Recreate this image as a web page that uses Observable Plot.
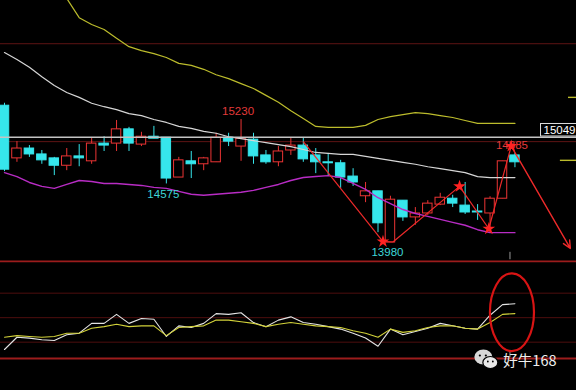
<!DOCTYPE html>
<html>
<head>
<meta charset="utf-8">
<script src="https://cdn.jsdelivr.net/npm/d3@7"></script>
<script src="https://cdn.jsdelivr.net/npm/@observablehq/plot@0.6"></script>
<style>
html, body { margin: 0; padding: 0; background: #000; }
#chart { width: 576px; height: 390px; overflow: hidden; background: #000; }
#chart svg { display: block; }
</style>
</head>
<body>
<div id="chart"></div>
<script>
// ---- Candles (index 0..41), prices ----
const opens  = [15370,14835,14935,14875,14835,14760,14855,14805,14985,14985,15130,14975,15055,15045,14640,14805,14775,14795,15045,14955,15025,14865,14795,14915,14965,14865,14795,14785,14650,14450,14500,13980,14405,14235,14275,14365,14425,14355,14295,14275,14425,14865];
const highs  = [15395,15005,14965,14915,14845,14935,14975,15045,15055,15220,15150,15100,15160,15045,14845,14905,14845,15090,15090,15230,15090,14915,14955,15045,15045,14935,14885,14815,14730,14590,14500,14450,14405,14335,14405,14480,14460,14590,14365,14445,14805,14885];
const lows   = [14700,14795,14845,14775,14660,14710,14750,14775,14905,14905,14905,14955,15035,14575,14640,14630,14710,14795,14955,14805,14775,14775,14750,14865,14795,14680,14660,14530,14550,14385,14080,13980,14195,14155,14255,14355,14335,14265,14205,14120,14425,14740];
const closes = [14720,14935,14875,14815,14760,14855,14835,14985,14965,15130,14985,15055,15035,14630,14815,14775,14835,15045,15005,15035,14855,14795,14905,14965,14825,14795,14785,14640,14590,14500,14175,14415,14235,14275,14375,14435,14375,14285,14285,14425,14805,14795];

// ---- Moving-average / band lines (one value per candle) ----
const maYellow  = [17560,17300,17050,16845,16645,16460,16265,16195,16145,16055,15970,15930,15900,15860,15800,15780,15740,15685,15645,15595,15545,15475,15405,15320,15240,15160,15150,15150,15150,15170,15230,15260,15280,15300,15290,15270,15250,15220,15190,15190,15190,15190];
const maWhite   = [15910,15840,15760,15665,15575,15505,15455,15395,15360,15330,15290,15270,15230,15200,15160,15140,15110,15090,15055,15035,15015,14995,14975,14955,14925,14895,14885,14875,14875,14855,14835,14815,14795,14775,14750,14730,14710,14690,14650,14640,14640,14640];
const maMagenta = [14690,14650,14590,14550,14530,14570,14610,14600,14580,14580,14570,14560,14540,14530,14500,14470,14460,14470,14480,14490,14510,14540,14570,14610,14640,14650,14660,14640,14580,14520,14435,14375,14315,14275,14245,14215,14185,14155,14110,14080,14080,14080];

// ---- Lower indicator pane ----
const indWhite  = [11,26,25,23,22,29,31,43,43,54,43,49,48,27,40,38,43,55,54,56,44,39,47,51,44,42,39,36,31,25,15,36,29,33,37,43,40,37,36,53,66,67];
const indYellow = [26,28,27,26,27,31,31,37,39,42,39,40,40,28,38,39,40,47,47,45,43,39,42,44,42,40,39,38,34,31,26,36,32,34,38,40,40,37,36,44,54,55];
const indLevels = [20, 50, 80];
const indFrame  = [0, 119];

// ---- Annotations ----
const lastPrice = 15049;
const gridPrices = [16000, 15005];
const rightMarks = [{p: 15455, from: 45.3}, {p: 14815, from: 44.65}];
const extremes = [
  {i: 19, p: 15230, text: "15230", kind: "high"},
  {i: 13, p: 14575, text: "14575", kind: "low"},
  {i: 31, p: 13980, text: "13980", kind: "low"},
  {i: 41, p: 14885, text: "14885", kind: "high"}
];
const zigzag = [
  {i: 24,    p: 15005},
  {i: 30.4,  p: 13990},
  {i: 31.2,  p: 13985},
  {i: 36.55, p: 14550},
  {i: 38.9,  p: 14120},
  {i: 40.7,  p: 14960},
  {i: 45.45, p: 13920}
];
const starIdx = [1, 3, 4, 5];
const cursorI = 40.6;
const highlight = {i: 40.8, v: 56, ri: 1.77, rv: 47.7};
const watermark = "好牛168";

// ---- Build ----
const RED = "#ec3434", CYAN = "#36e6ec", ZIG = "#ee2a2a";
const FONT = "'Liberation Sans', Arial, sans-serif";
const candles = opens.map((o, i) => ({i, o, h: highs[i], l: lows[i], c: closes[i]}));
const ups = candles.filter(d => d.c >= d.o);
const downs = candles.filter(d => d.c < d.o);
const series = arr => arr.map((v, i) => ({i, v}));
const legs = zigzag.slice(0, -2).map((d, k) => ({a: d, b: zigzag[k + 1]}));
const lastLeg = [{a: zigzag[zigzag.length - 2], b: zigzag[zigzag.length - 1]}];
const stars = starIdx.map(k => zigzag[k]);

const xScale = {type: "linear", domain: [0, 41], range: [4, 514.45], axis: null};

const main = Plot.plot({
  width: 576, height: 260, margin: 0,
  style: {background: "#000", overflow: "hidden"},
  x: xScale,
  y: {type: "linear", domain: [15230, 13980], range: [119, 242], axis: null},
  marks: [
    Plot.ruleY(gridPrices, {stroke: "#5e1414", strokeWidth: 1}),
    Plot.ruleX(ups, {x: "i", y1: "l", y2: "h", stroke: RED, strokeWidth: 1}),
    Plot.ruleX(downs, {x: "i", y1: "l", y2: "h", stroke: CYAN, strokeWidth: 1}),
    Plot.rect(ups, {x1: d => d.i - 0.38, x2: d => d.i + 0.38, y1: "o", y2: "c", fill: "#000", stroke: RED, strokeWidth: 1}),
    Plot.rect(downs, {x1: d => d.i - 0.38, x2: d => d.i + 0.38, y1: "o", y2: "c", fill: CYAN, stroke: CYAN, strokeWidth: 1}),
    Plot.line(series(maYellow), {x: "i", y: "v", stroke: "#bcbc2c", strokeWidth: 1.2, clip: true}),
    Plot.line(series(maWhite), {x: "i", y: "v", stroke: "#d6d6d6", strokeWidth: 1.2, clip: true}),
    Plot.line(series(maMagenta), {x: "i", y: "v", stroke: "#b82cc4", strokeWidth: 1.4, clip: true}),
    Plot.ruleY([lastPrice], {stroke: "#c4c4c4", strokeWidth: 1.6}),
    Plot.ruleY(rightMarks, {y: "p", x1: "from", x2: d => 46, stroke: "#bcbc2c", strokeWidth: 1.4}),
    Plot.ruleX([cursorI], {y1: 13880, y2: 13805, stroke: "#9a9a9a", strokeWidth: 1}),
    Plot.link(legs, {x1: d => d.a.i, y1: d => d.a.p, x2: d => d.b.i, y2: d => d.b.p, stroke: ZIG, strokeWidth: 1.2}),
    Plot.arrow(lastLeg, {x1: d => d.a.i, y1: d => d.a.p, x2: d => d.b.i, y2: d => d.b.p, stroke: ZIG, strokeWidth: 1.4, headLength: 9, headAngle: 50}),
    Plot.text(extremes.filter(d => d.kind === "high"), {x: "i", y: "p", text: "text", fill: "#e23a3a", dx: -3, dy: -8, fontSize: 11.5, fontFamily: FONT}),
    Plot.text(extremes.filter(d => d.kind === "low"), {x: "i", y: "p", text: "text", fill: "#3ed6d8", dx: -3, dy: 10, fontSize: 11.5, fontFamily: FONT}),
    Plot.dot(stars, {x: "i", y: "p", symbol: "star", r: 4, fill: "#ff2222"}),
    Plot.text([lastPrice], {y: d => d, text: d => String(d), frameAnchor: "right", textAnchor: "end", dx: -1, dy: -7, fill: "#fff", fontSize: 11.5, fontFamily: FONT})
  ]
});

const lower = Plot.plot({
  width: 576, height: 130, margin: 0,
  style: {background: "#000", overflow: "hidden"},
  x: xScale,
  y: {type: "linear", domain: [0, 120], range: [98, 0], axis: null},
  marks: [
    Plot.ruleY(indLevels, {stroke: "#4e0e0e", strokeWidth: 1}),
    Plot.ruleY(indFrame, {stroke: "#9c1c1c", strokeWidth: 1.8}),
    Plot.line(series(indWhite), {x: "i", y: "v", stroke: "#e4e4e4", strokeWidth: 1.1}),
    Plot.line(series(indYellow), {x: "i", y: "v", stroke: "#d2d23a", strokeWidth: 1.1}),
    Plot.ruleX([cursorI], {y1: 10, y2: 1, stroke: "#9a9a9a", strokeWidth: 1}),
    Plot.text([watermark], {frameAnchor: "bottom-right", textAnchor: "end", dx: -20, dy: -25, fill: "#eeeeee", fontSize: 14.5, fontFamily: "'Noto Sans CJK SC', sans-serif"})
  ]
});

const root = document.getElementById("chart");
root.appendChild(main);
root.appendChild(lower);

const findText = (svg, s) => Array.from(svg.querySelectorAll("text")).find(t => (t.textContent || "").indexOf(s) >= 0);
const NS = "http://www.w3.org/2000/svg";

// Boxed last-price label (box drawn under the text)
const lp = findText(main, String(lastPrice));
if (lp) {
  const b = lp.getBBox();
  const grp = lp.parentNode;
  const r = document.createElementNS(NS, "rect");
  r.setAttribute("x", b.x - 3); r.setAttribute("y", b.y - 0.5);
  r.setAttribute("width", b.width + 10); r.setAttribute("height", b.height + 0.5);
  r.setAttribute("fill", "#000"); r.setAttribute("stroke", "#dcdcdc"); r.setAttribute("stroke-width", "1");
  // text elements may carry a transform; copy it
  if (lp.getAttribute("transform")) r.setAttribute("transform", lp.getAttribute("transform"));
  grp.insertBefore(r, lp);
}

// Highlight ellipse around the latest indicator values
const sx = lower.scale("x"), sy = lower.scale("y");
const cx = sx.apply(highlight.i), cy = sy.apply(highlight.v);
const rx = Math.abs(sx.apply(highlight.i + highlight.ri) - cx);
const ry = Math.abs(sy.apply(highlight.v + highlight.rv) - cy);
d3.select(lower).append("ellipse")
  .attr("cx", cx).attr("cy", cy).attr("rx", rx).attr("ry", ry)
  .attr("fill", "none").attr("stroke", "#d81414").attr("stroke-width", 2.2);

// WeChat-style icon next to the watermark
const wm = findText(lower, watermark);
if (wm) {
  const b = wm.getBBox();
  const g = document.createElementNS(NS, "g");
  if (wm.getAttribute("transform")) g.setAttribute("transform", wm.getAttribute("transform"));
  wm.parentNode.appendChild(g);
  const gs = d3.select(g);
  const bx = b.x - 20, by = b.y + b.height / 2 - 2;
  gs.append("ellipse").attr("cx", bx).attr("cy", by).attr("rx", 9).attr("ry", 7.5).attr("fill", "#d8d8d8");
  gs.append("ellipse").attr("cx", bx + 7).attr("cy", by + 5.5).attr("rx", 7.5).attr("ry", 6).attr("fill", "#e8e8e8").attr("stroke", "#000").attr("stroke-width", 1.2);
  [[-3.5, -1.5], [2.5, -1.5]].forEach(([dx, dy]) => gs.append("circle").attr("cx", bx + dx).attr("cy", by + dy).attr("r", 1.1).attr("fill", "#000"));
  [[4.5, 4.5], [9.5, 4.5]].forEach(([dx, dy]) => gs.append("circle").attr("cx", bx + dx).attr("cy", by + dy).attr("r", 0.9).attr("fill", "#000"));
}
</script>
</body>
</html>
